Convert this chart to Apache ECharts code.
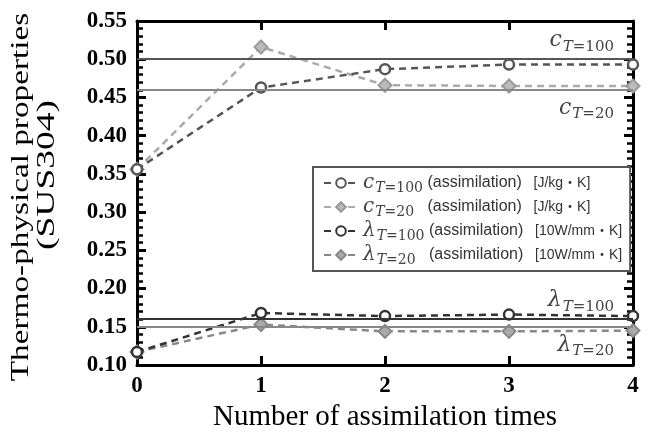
<!DOCTYPE html>
<html>
<head>
<meta charset="utf-8">
<script src="https://cdn.jsdelivr.net/npm/echarts@6/dist/echarts.min.js"></script>
<style>
html,body{margin:0;padding:0;background:#fff;}
#chart{width:654px;height:441px;}
</style>
</head>
<body>
<div id="chart"></div>
<script>
// ---- data ----
const categories = ['0', '1', '2', '3', '4'];
const cT100 = [0.356, 0.463, 0.487, 0.493, 0.493];
const cT20 = [0.356, 0.516, 0.466, 0.465, 0.465];
const lamT100 = [0.117, 0.168, 0.164, 0.166, 0.164];
const lamT20 = [0.117, 0.153, 0.144, 0.144, 0.145];
const refC100 = [0.496];
const refC20 = [0.463];
const refLam100 = [0.162];
const refLam20 = [0.1475];
const yMin = 0.10, yMax = 0.55, yStep = 0.05;
const seriesNames = ['c100', 'c20', 'l100', 'l20'];
const yTitleLines = ['Thermo-physical properties', '(SUS304)'];
const xTitle = 'Number of assimilation times';

const serif = '"Liberation Serif", "Times New Roman", serif';
const mathFont = '"DejaVu Serif", serif';
const sans = '"Liberation Sans", "Noto Sans", "Noto Sans CJK JP", sans-serif';

const mathRich = {
  m: { fontFamily: mathFont, fontStyle: 'italic', fontSize: 22, color: '#444' },
  t: { fontFamily: mathFont, fontStyle: 'italic', fontSize: 15, color: '#444', padding: [12, 0, 0, 1] },
  n: { fontFamily: mathFont, fontSize: 15, color: '#444', padding: [12, 0, 0, 0] }
};

const legendText = {
  c100: '{m|c}{t|T}{n|=100}{a|(assimilation)}{u|[J/kg・K]}',
  c20: '{m|c}{t|T}{n|=20}{a|(assimilation)}{u|[J/kg・K]}',
  l100: '{m|λ}{t|T}{n|=100}{a|(assimilation)}{u|[10W/mm・K]}',
  l20: '{m|λ}{t|T}{n|=20}{a|(assimilation)}{u|[10W/mm・K]}'
};

function refLabel(sym, sub, pos) {
  return {
    show: true,
    position: pos,
    distance: 5,
    padding: [0, 14, 0, 0],
    formatter: '{m|' + sym + '}{t|T}{n|' + sub + '}',
    rich: mathRich
  };
}

function refLine(val, color, sym, sub, pos) {
  return {
    silent: true,
    symbol: ['none', 'none'],
    lineStyle: { color: color, width: 2, type: 'solid' },
    data: [{ yAxis: val, label: refLabel(sym, sub, pos) }]
  };
}

const chart = echarts.init(document.getElementById('chart'), null, { renderer: 'canvas' });

const axisLineStyle = { color: '#000', width: 3 };

const option = {
  backgroundColor: '#fff',
  animation: false,
  grid: { left: 137, right: 21, top: 21, bottom: 76 },
  graphic: [
    {
      type: 'text', x: 21, y: 197, rotation: Math.PI / 2, scaleX: 1.33,
      style: { text: yTitleLines[0], fontFamily: serif, fontSize: 25, fill: '#000', align: 'center', verticalAlign: 'middle' }
    },
    {
      type: 'text', x: 47, y: 175, rotation: Math.PI / 2, scaleX: 1.5,
      style: { text: yTitleLines[1], fontFamily: serif, fontSize: 25, fill: '#000', align: 'center', verticalAlign: 'middle' }
    }
  ],
  legend: {
    orient: 'vertical',
    left: 313,
    top: 167,
    data: seriesNames,
    backgroundColor: '#fff',
    borderColor: '#555',
    borderWidth: 2,
    borderRadius: 0,
    padding: [6, 8, 4, 10],
    itemGap: 2,
    itemWidth: 34,
    itemHeight: 12,
    formatter: function (name) { return legendText[name]; },
    textStyle: {
      rich: {
        m: { fontFamily: mathFont, fontStyle: 'italic', fontSize: 20, color: '#444', lineHeight: 20 },
        t: { fontFamily: mathFont, fontStyle: 'italic', fontSize: 14, color: '#444', padding: [10, 0, 0, 1] },
        n: { fontFamily: mathFont, fontSize: 14, color: '#444', padding: [10, 0, 0, 0], width: 43 },
        a: { fontFamily: sans, fontSize: 16, color: '#333', width: 106 },
        u: { fontFamily: sans, fontSize: 14, color: '#333' }
      }
    }
  },
  xAxis: [
    {
      type: 'category',
      data: categories,
      boundaryGap: false,
      position: 'bottom',
      axisLine: { lineStyle: axisLineStyle },
      axisTick: { inside: true, length: 9, alignWithLabel: true, lineStyle: { color: '#000', width: 3 } },
      axisLabel: { fontFamily: serif, fontWeight: 'bold', fontSize: 23, color: '#000', margin: 10 },
      splitLine: { show: false },
      name: xTitle,
      nameLocation: 'middle',
      nameGap: 36,
      nameTextStyle: { fontFamily: serif, fontSize: 29, color: '#000' }
    },
    {
      type: 'category',
      data: categories,
      boundaryGap: false,
      position: 'top',
      axisLine: { lineStyle: axisLineStyle },
      axisTick: { inside: true, length: 9, alignWithLabel: true, lineStyle: { color: '#000', width: 3 } },
      axisLabel: { show: false },
      splitLine: { show: false }
    }
  ],
  yAxis: [
    {
      type: 'value',
      min: yMin, max: yMax, interval: yStep,
      position: 'left',
      axisLine: { show: true, lineStyle: axisLineStyle },
      axisTick: { show: true, inside: true, length: 9, lineStyle: { color: '#000', width: 3 } },
      minorTick: { show: true, splitNumber: 5, length: 6, lineStyle: { color: '#000', width: 2.5 } },
      axisLabel: {
        fontFamily: serif, fontWeight: 'bold', fontSize: 23, color: '#000', margin: 10,
        formatter: function (v) { return v.toFixed(2); }
      },
      splitLine: { show: false }
    },
    {
      type: 'value',
      min: yMin, max: yMax, interval: yStep,
      position: 'right',
      axisLine: { show: true, lineStyle: axisLineStyle },
      axisTick: { show: true, inside: true, length: 9, lineStyle: { color: '#000', width: 3 } },
      minorTick: { show: true, splitNumber: 5, length: 6, lineStyle: { color: '#000', width: 2.5 } },
      axisLabel: { show: false },
      splitLine: { show: false }
    }
  ],
  series: [
    {
      name: 'c100', type: 'line', data: cT100,
      symbol: 'circle', symbolSize: 10,
      lineStyle: { color: '#555', width: 2.5, type: [7, 5] },
      itemStyle: { color: '#fff', borderColor: '#555', borderWidth: 2.5 },
      z: 4,
      markLine: refLine(refC100[0], '#555', 'c', '=100', 'insideEndTop')
    },
    {
      name: 'c20', type: 'line', data: cT20,
      symbol: 'diamond', symbolSize: 13,
      lineStyle: { color: '#aaa', width: 2.5, type: [7, 5] },
      itemStyle: { color: '#bbb', borderColor: '#999', borderWidth: 2 },
      z: 3,
      markLine: refLine(refC20[0], '#888', 'c', '=20', 'insideEndBottom')
    },
    {
      name: 'l100', type: 'line', data: lamT100,
      symbol: 'circle', symbolSize: 10,
      lineStyle: { color: '#333', width: 2.5, type: [7, 5] },
      itemStyle: { color: '#fff', borderColor: '#333', borderWidth: 2.5 },
      z: 4,
      markLine: refLine(refLam100[0], '#333', 'λ', '=100', 'insideEndTop')
    },
    {
      name: 'l20', type: 'line', data: lamT20,
      symbol: 'diamond', symbolSize: 13,
      lineStyle: { color: '#888', width: 2.5, type: [7, 5] },
      itemStyle: { color: '#aaa', borderColor: '#888', borderWidth: 2 },
      z: 3,
      markLine: refLine(refLam20[0], '#888', 'λ', '=20', 'insideEndBottom')
    }
  ]
};

chart.setOption(option);
</script>
</body>
</html>
